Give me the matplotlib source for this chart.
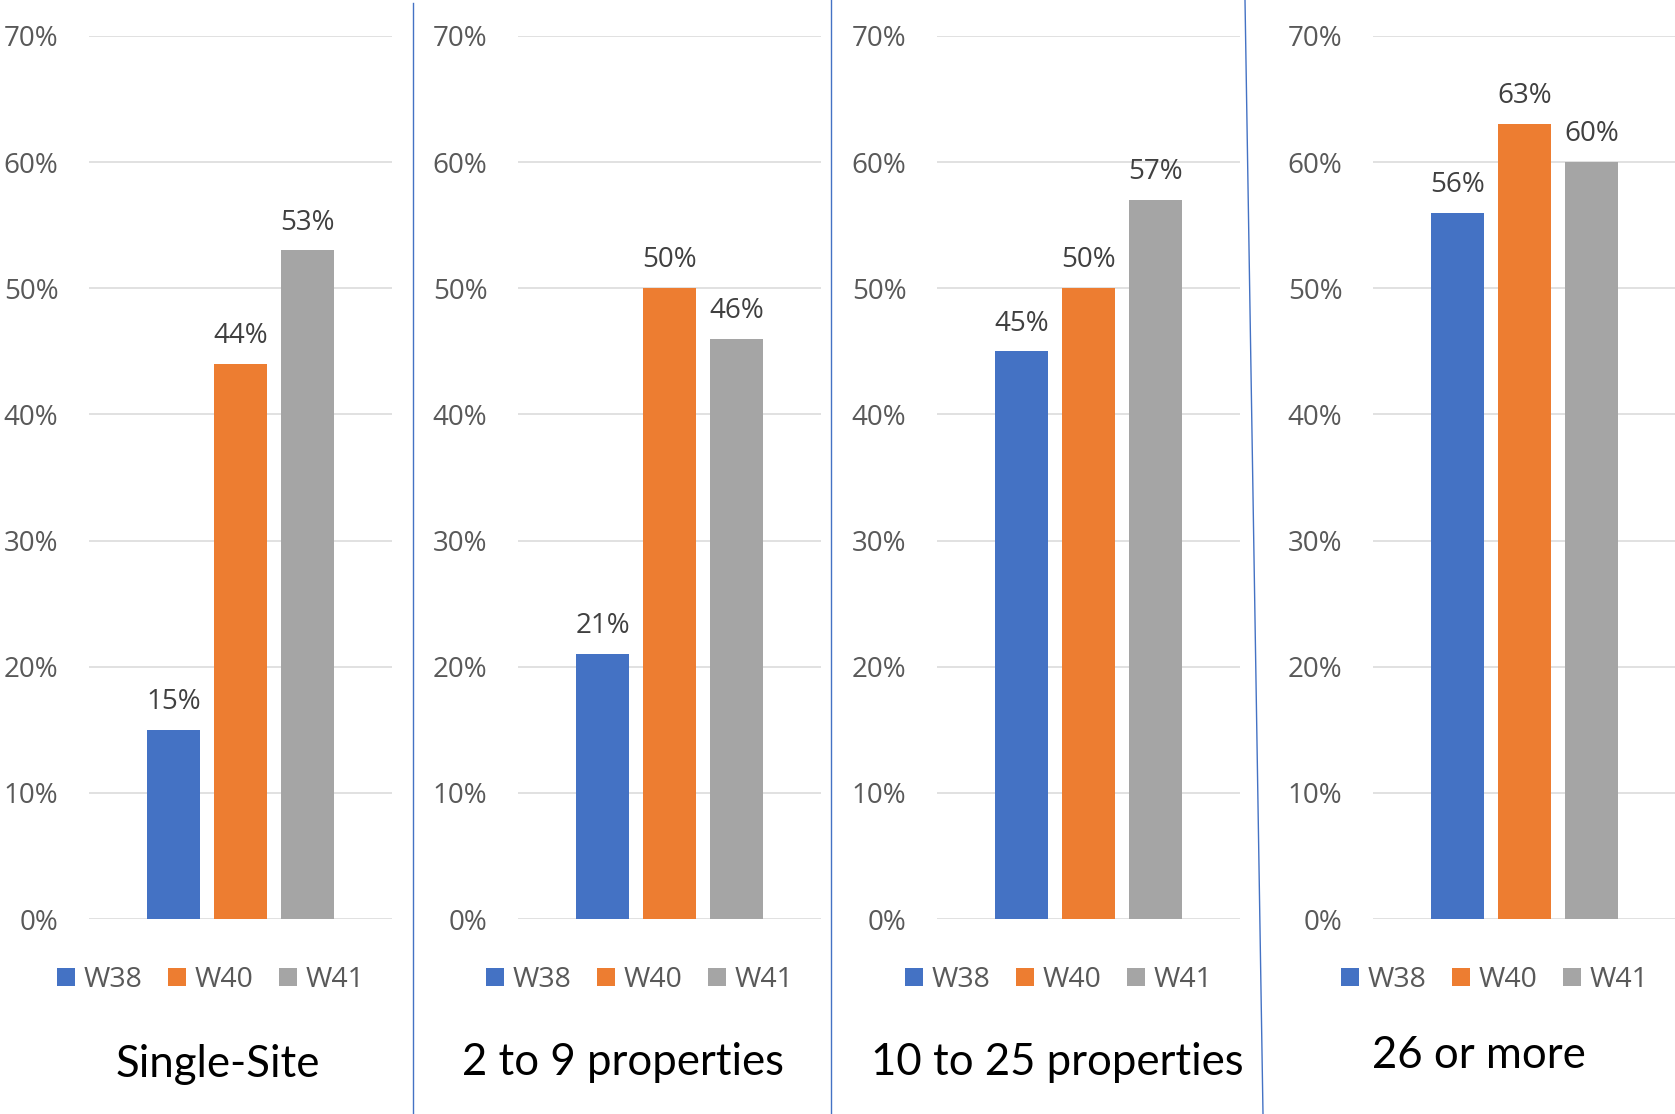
import matplotlib.pyplot as plt
from matplotlib.lines import Line2D
from matplotlib.patches import Patch

# data (percent)
groups = ["Single-Site", "2 to 9 properties", "10 to 25 properties", "26 or more"]
series = ["W38", "W40", "W41"]
w38 = [15, 21, 45, 56]
w40 = [44, 50, 50, 63]
w41 = [53, 46, 57, 60]
yticks = [0, 10, 20, 30, 40, 50, 60, 70]

colors = ["#4472C4", "#ED7D31", "#A5A5A5"]
W, H = 1675, 1114

plt.rcParams['font.family'] = ['Open Sans', 'DejaVu Sans']

fig = plt.figure(figsize=(W / 100, H / 100), dpi=100)

# axes left edges in pixels, and title anchor (center x, baseline y)
ax_left = [89, 518, 937, 1373]
ax_w = 303
ax_top, ax_bot = 36, 919
title_pos = [(218, 1077), (623, 1075), (1057, 1075), (1479, 1068)]

for i, name in enumerate(groups):
    ax = fig.add_axes([ax_left[i] / W, 1 - ax_bot / H, ax_w / W, (ax_bot - ax_top) / H])
    vals = [w38[i], w40[i], w41[i]]
    xs = [-1, 0, 1]
    ax.bar(xs, vals, width=0.79, color=colors, zorder=3)
    for x, v in zip(xs, vals):
        ax.annotate(f"{v}%", xy=(x, v), xytext=(0, 15), textcoords="offset points",
                    ha="center", va="baseline", fontsize=20, color="#404040")

    ax.set_xlim(-2.261, 2.261)
    ax.set_ylim(0, 70)
    ax.set_yticks(yticks)
    ax.set_yticklabels([f"{t}%" for t in yticks])
    ax.set_xticks([])
    ax.tick_params(axis="y", length=0, pad=22, labelsize=20, labelcolor="#595959")
    ax.grid(axis="y", color="#D9D9D9", linewidth=1.1)
    ax.set_axisbelow(True)
    for s in ax.spines.values():
        s.set_visible(False)

    handles = [Patch(facecolor=c, edgecolor="none") for c in colors]
    ax.legend(handles, series, loc="center left", bbox_to_anchor=(-32 / ax_w, -61 / (ax_bot - ax_top)),
              ncol=3, frameon=False, fontsize=20.5, labelcolor="#595959",
              handlelength=0.63, handleheight=0.63, handletextpad=0.32,
              columnspacing=0.88, borderpad=0, borderaxespad=0)

    tx, ty = title_pos[i]
    fig.text(tx / W, 1 - ty / H, name, ha="center", va="baseline",
             fontsize=31.5, color="black", family=["Lato", "DejaVu Sans"])

# panel dividers
div_color = "#4472C4"
for (x0, y0), (x1, y1) in [((413, 3), (413, H)), ((831, 0), (831, H)), ((1245, 0), (1263, H))]:
    fig.add_artist(Line2D([x0 / W, x1 / W], [1 - y0 / H, 1 - y1 / H],
                          transform=fig.transFigure, color=div_color, linewidth=1.0))

fig.savefig("out.png", dpi=100)
